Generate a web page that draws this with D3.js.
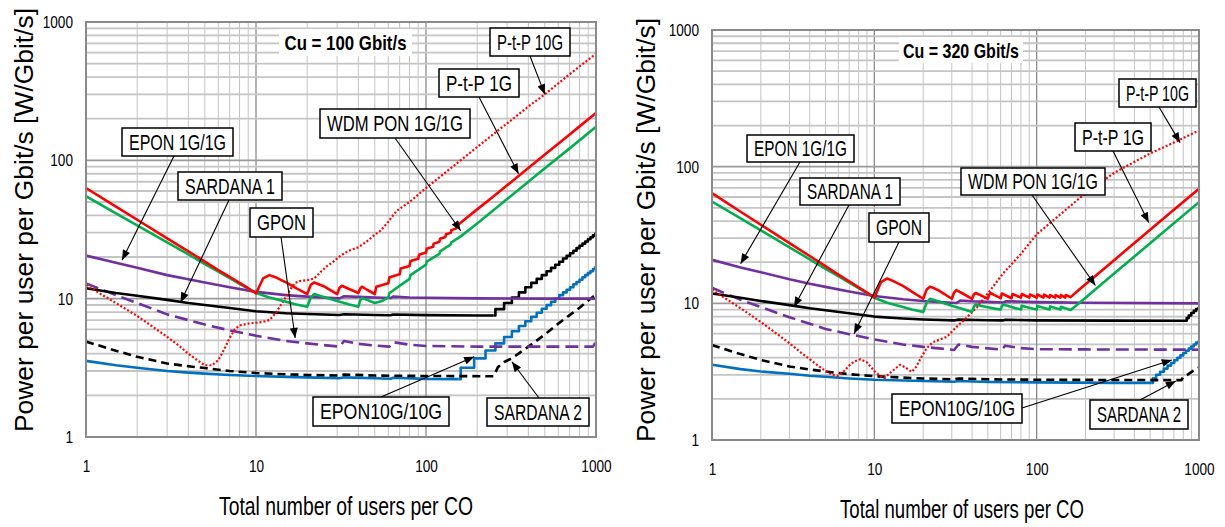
<!DOCTYPE html>
<html>
<head>
<meta charset="utf-8">
<script src="https://cdn.jsdelivr.net/npm/d3@7"></script>
<style>
  body { margin: 0; background: #fff; }
  svg { display: block; }
  .narrow { font-family: "Liberation Sans", Arial, sans-serif; }
  .wide { font-family: "Liberation Sans", Arial, sans-serif; }
</style>
</head>
<body>
<svg id="chart" width="1225" height="527"></svg>
<script>
// ---- Axis ticks ----
const userTicks = [1, 10, 100, 1000];
const powerTicks = [1, 10, 100, 1000];

// ---- Cu = 100 Gbit/s : [users per CO, W/Gbit/s per user] ----
const ptp1g_cu100 = [[1,63],[1.5,46.3],[2,37.2],[3,27.3],[4,22.0],[5,18.5],[6,16.1],[7,14.4],[8,13.0],[9,11.9],[10,10.9],[11,14.0],[12,14.8],[13,14.3],[15,13.1],[17,12.0],[20,10.8],[21,12.6],[22,13.1],[25,12.3],[30,10.8],[31,12.0],[32,12.4],[35,11.8],[40,11.0],[41,11.8],[42,12.2],[45,11.6],[50,10.8],[51,12.2],[60,12.9],[61,14.3],[70,15.0],[71,16.5],[80,17.2],[81,18.7],[90,19.4],[91,20.8],[100,21.6],[101,23.0],[110,23.7],[111,25.0],[120,25.8],[121,27.1],[130,27.9],[131,29.2],[140,30.0],[141,31.3],[150,32.1],[151,33.4],[175,38.8],[200,44.2],[250,55],[300,66],[400,88],[500,110],[600,132],[700,154],[800,176],[900,198],[1000,220]];
const ptp10g_cu100 = [[1,12.5],[1.5,9.3],[2,7.5],[2.5,6.2],[3,5.3],[3.5,4.6],[4,4.0],[4.5,3.6],[5,3.3],[5.5,3.3],[6,3.6],[6.5,4.3],[7,5.2],[7.5,6.0],[8,6.4],[9,6.6],[10,6.7],[11,6.8],[12,7.0],[13,7.8],[14,9.0],[15,10.3],[16,11.8],[17,13.0],[18,13.4],[20,13.6],[22,14.0],[24,15.6],[26,17.1],[28,18.2],[31,20.2],[35,22.2],[40,23.5],[45,26.0],[50,29],[54,31],[60,36],[67,43],[80,50],[100,63],[150,94],[200,125],[300,185],[400,245],[500,300],[700,420],[1000,590]];
const wdm_cu100 = [[1,55],[1.5,41.4],[2,33.9],[3,25.5],[4,20.9],[5,17.8],[6,15.7],[7,14.1],[8,12.8],[9,11.8],[10,11.0],[12,10.2],[15,9.5],[17,9.1],[20,8.75],[21,10.2],[22,10.8],[25,10.3],[30,9.6],[35,9.1],[40,8.75],[41,9.7],[42,10.1],[45,9.8],[50,9.3],[55,9.6],[60,10.2],[61,11.0],[80,13.9],[81,14.8],[100,17.6],[101,18.5],[120,21.1],[121,22.0],[140,24.7],[141,25.5],[160,28.2],[200,35],[300,52.5],[400,70],[500,87.5],[700,122],[1000,175]];
const epon1g_cu100 = [[1,20.5],[1.5,18.2],[2,16.7],[3,14.8],[4,13.8],[5,13.1],[7,12.1],[10,11.2],[15,10.6],[20,10.35],[25,10.2],[31,10.05],[33,10.4],[40,10.3],[50,10.2],[62,10.1],[64,10.35],[80,10.2],[100,10.15],[200,10.05],[500,10.0],[1000,10.0]];
const gpon_cu100 = [[1,12.9],[1.5,10.6],[2,9.3],[3,7.7],[4,7.0],[5,6.5],[7,5.9],[10,5.4],[15,4.95],[20,4.75],[25,4.62],[31,4.5],[33,4.95],[40,4.72],[50,4.58],[61,4.5],[64,4.85],[80,4.65],[100,4.55],[200,4.5],[960,4.5],[1000,4.9]];
const sardana1_cu100 = [[1,11.9],[1.5,11.0],[2,10.5],[3,9.8],[4,9.3],[5,9.0],[7,8.55],[10,8.1],[15,7.85],[20,7.75],[31,7.62],[33,7.72],[50,7.62],[62,7.58],[64,7.68],[100,7.6],[200,7.55],[250,7.55]];
const sardana1_steps_cu100 = [[250,7.55],[256,8.4],[288,9.3],[320,10.2],[352,11.1],[384,12.1],[416,13.0],[448,13.9],[480,14.8],[512,15.8],[544,16.7],[576,17.6],[608,18.5],[640,19.5],[672,20.4],[704,21.3],[736,22.2],[768,23.2],[800,24.1],[832,25.0],[864,25.9],[896,26.9],[928,27.8],[960,28.7],[992,29.6],[1000,29.6]];
const epon10g_cu100 = [[1,3.55],[1.5,3.3],[2,3.17],[3,3.0],[4,2.92],[5,2.87],[7,2.81],[10,2.76],[15,2.72],[20,2.7],[31,2.66],[33,2.7],[50,2.66],[62,2.64],[64,2.68],[100,2.63],[155,2.62]];
const epon10g_steps_cu100 = [[155,2.62],[160,3.17],[192,3.70],[224,4.22],[256,4.75],[288,5.28],[320,5.81],[352,6.34],[384,6.86],[416,7.39],[448,7.92],[480,8.45],[512,8.98],[544,9.5],[576,10.0],[608,10.6],[640,11.1],[672,11.6],[704,12.1],[736,12.7],[768,13.2],[800,13.7],[832,14.3],[864,14.8],[896,15.3],[928,15.8],[960,16.4],[992,16.9],[1000,16.9]];
const sardana2_cu100 = [[1,4.9],[1.5,4.2],[2,3.8],[3,3.4],[4,3.25],[5,3.15],[7,3.0],[10,2.9],[15,2.84],[20,2.81],[31,2.78],[33,2.83],[50,2.78],[100,2.76],[250,2.75],[265,3.2],[290,3.5],[320,3.7],[400,4.5],[500,5.5],[600,6.6],[700,7.6],[800,8.6],[900,9.7],[1000,10.7]];

// ---- Cu = 320 Gbit/s ----
const ptp1g_cu320 = [[1,64],[1.5,46.8],[2,37.6],[3,27.6],[4,22.2],[5,18.7],[6,16.2],[7,14.5],[8,13.1],[9,12.0],[10,11.0],[11,14.3],[12,15.2],[13,14.6],[15,13.4],[17,12.2],[20,10.8],[21,12.6],[22,13.2],[23,13.0],[25,12.4],[30,10.8],[31,12.0],[32,12.5],[35,11.8],[40,10.8],[41,11.6],[42,11.9],[45,11.5],[50,10.8],[51,11.6],[52,11.9],[55,11.5],[60,10.9],[61,11.8],[70,10.9],[71,11.7],[80,11.0],[81,11.7],[90,11.0],[91,11.6],[100,11.0],[101,11.6],[110,11.0],[111,11.6],[120,11.0],[121,11.5],[130,11.0],[131,11.5],[140,11.0],[141,11.5],[150,11.0],[151,11.5],[162,11.1],[180,12.4],[200,13.8],[300,20.7],[400,27.6],[500,34.5],[700,48.3],[1000,69]];
const ptp10g_cu320 = [[1,12.6],[1.5,9.2],[2,7.3],[2.5,6.0],[3,5.1],[3.5,4.4],[4,3.9],[4.5,3.5],[5,3.2],[5.5,3.0],[6,2.95],[6.5,3.2],[7,3.5],[7.5,3.75],[8.2,3.9],[9,3.7],[10,3.2],[11,2.9],[11.6,2.85],[12.5,3.1],[14.4,3.55],[15.5,3.4],[17,3.15],[18,3.4],[19.5,4.05],[21,4.7],[23,5.2],[26,5.5],[28,5.7],[32,6.7],[36,7.6],[43,9.4],[50,11.8],[62,16.5],[80,23],[100,32],[150,48],[200,64],[300,90],[500,125],[700,150],[1000,184]];
const wdm_cu320 = [[1,55.5],[1.5,41.8],[2,34.2],[3,25.7],[4,21.0],[5,17.9],[6,15.8],[7,14.2],[8,12.9],[9,11.9],[10,11.0],[12,10.1],[15,9.4],[17,9.0],[20,8.65],[21,10.1],[22,10.8],[25,10.3],[30,9.6],[35,9.1],[40,8.65],[41,9.4],[42,9.8],[45,9.6],[50,9.35],[55,9.15],[60,9.0],[61,9.5],[62,9.8],[70,9.4],[80,9.0],[81,9.6],[90,9.3],[100,9.0],[101,9.55],[110,9.3],[120,9.0],[121,9.5],[130,9.25],[140,9.0],[141,9.45],[150,9.2],[162,8.95],[180,9.9],[200,11],[300,16.5],[400,22],[500,27.5],[700,38.5],[1000,55]];
const epon1g_cu320 = [[1,20.8],[1.5,18.3],[2,16.9],[3,15.0],[4,13.9],[5,13.2],[7,12.2],[10,11.3],[15,10.7],[20,10.4],[30,10.1],[32,10.05],[34,10.5],[40,10.35],[50,10.25],[62,10.15],[65,10.35],[100,10.2],[200,10.1],[1000,10.0]];
const gpon_cu320 = [[1,13.0],[1.5,10.6],[2,9.4],[3,7.9],[4,7.1],[5,6.5],[7,5.95],[10,5.45],[15,5.0],[20,4.8],[25,4.68],[31,4.56],[33,5.0],[40,4.8],[50,4.68],[61,4.58],[64,4.9],[80,4.7],[100,4.62],[200,4.6],[1000,4.58]];
const sardana1_cu320 = [[1,11.8],[1.5,11.0],[2,10.4],[3,9.7],[4,9.2],[5,8.9],[7,8.45],[10,8.0],[15,7.75],[20,7.62],[31,7.5],[33,7.6],[50,7.52],[62,7.5],[64,7.58],[100,7.5],[300,7.47],[832,7.45]];
const sardana1_steps_cu320 = [[832,7.45],[840,7.8],[864,8.15],[896,8.5],[928,8.8],[960,9.1],[992,9.25],[1000,9.25]];
const epon10g_cu320 = [[1,3.55],[1.5,3.3],[2,3.17],[3,3.05],[4,2.95],[5,2.9],[7,2.82],[10,2.76],[20,2.7],[31,2.67],[33,2.7],[50,2.66],[100,2.64],[300,2.62],[512,2.62]];
const epon10g_steps_cu320 = [[512,2.62],[520,2.83],[544,3.0],[576,3.16],[608,3.33],[640,3.5],[672,3.66],[704,3.83],[736,4.0],[768,4.16],[800,4.33],[832,4.5],[864,4.66],[896,4.83],[928,5.0],[960,5.16],[992,5.25],[1000,5.25]];
const sardana2_cu320 = [[1,4.95],[1.5,4.25],[2,3.85],[3,3.45],[4,3.28],[5,3.17],[7,3.03],[10,2.93],[15,2.86],[20,2.82],[31,2.78],[33,2.82],[50,2.78],[100,2.76],[780,2.74],[800,2.9],[850,3.0],[900,3.15],[1000,3.4]];

// ---- Drawing ----
const svg = d3.select("#chart");

// Squeeze a text element horizontally to a condensed width.
function condense(sel, k) {
  sel.each(function () {
    const w = this.getComputedTextLength();
    d3.select(this).attr("textLength", w * k).attr("lengthAdjust", "spacingAndGlyphs");
  });
}

const styles = {
  ptp1g:   { color: "#ff0000", width: 2.6, dash: null },
  ptp10g:  { color: "#ff0000", width: 2.2, dash: "2,2" },
  wdm:     { color: "#00b050", width: 2.6, dash: null },
  epon1g:  { color: "#7030a0", width: 2.6, dash: null },
  gpon:    { color: "#7030a0", width: 2.6, dash: "13,6" },
  sardana1:{ color: "#000000", width: 2.6, dash: null },
  epon10g: { color: "#0070c0", width: 2.6, dash: null },
  sardana2:{ color: "#000000", width: 2.6, dash: "8,5" }
};

const panels = [
  {
    cu: "Cu = 100 Gbit/s",
    frame: { l: 86, r: 596, t: 22, b: 437 },
    cuBox: { x: 279, y: 29, w: 133, h: 27, len: 122 },
    yTitle: { x: 24, y: 220, len: 424 },
    xTitle: { x: 346, y: 515, len: 254 },
    series: [
      { d: epon10g_cu100, s: "epon10g" }, { d: epon10g_steps_cu100, s: "epon10g", step: true },
      { d: sardana2_cu100, s: "sardana2" },
      { d: gpon_cu100, s: "gpon" },
      { d: sardana1_cu100, s: "sardana1" }, { d: sardana1_steps_cu100, s: "sardana1", step: true },
      { d: epon1g_cu100, s: "epon1g" },
      { d: ptp10g_cu100, s: "ptp10g" },
      { d: wdm_cu100, s: "wdm" },
      { d: ptp1g_cu100, s: "ptp1g" }
    ],
    labels: [
      { text: "P-t-P 10G",     box: [490, 28, 80, 28],  from: [530, 56],  tip: [500, 300] },
      { text: "P-t-P 1G",      box: [439, 69, 80, 28],  from: [479, 97],  tip: [350, 80] },
      { text: "WDM PON 1G/1G", box: [320, 109, 150, 29], from: [395, 138], tip: [160, 31] },
      { text: "EPON 1G/1G",    box: [122, 128, 111, 28], from: [174, 156], tip: [1.63, 19] },
      { text: "SARDANA 1",     box: [178, 172, 104, 28], from: [229, 200], tip: [3.6, 9.4] },
      { text: "GPON",          box: [250, 208, 63, 29],  from: [281, 237], tip: [17, 5.2] },
      { text: "EPON10G/10G",   box: [313, 397, 136, 29], from: [381, 397], tip: [192, 3.8] },
      { text: "SARDANA 2",     box: [487, 398, 102, 28], from: [539, 398], tip: [320, 3.5] }
    ]
  },
  {
    cu: "Cu = 320 Gbit/s",
    frame: { l: 712, r: 1199, t: 30, b: 440 },
    cuBox: { x: 899, y: 37, w: 124, h: 26, len: 116 },
    yTitle: { x: 646, y: 230, len: 424 },
    xTitle: { x: 962, y: 518, len: 244 },
    series: [
      { d: epon10g_cu320, s: "epon10g" }, { d: epon10g_steps_cu320, s: "epon10g", step: true },
      { d: sardana2_cu320, s: "sardana2" },
      { d: gpon_cu320, s: "gpon" },
      { d: sardana1_cu320, s: "sardana1" }, { d: sardana1_steps_cu320, s: "sardana1", step: true },
      { d: epon1g_cu320, s: "epon1g" },
      { d: ptp10g_cu320, s: "ptp10g" },
      { d: wdm_cu320, s: "wdm" },
      { d: ptp1g_cu320, s: "ptp1g" }
    ],
    labels: [
      { text: "P-t-P 10G",     box: [1119, 79, 77, 28],  from: [1159, 107], tip: [765, 150] },
      { text: "P-t-P 1G",      box: [1075, 123, 76, 28], from: [1113, 151], tip: [490, 39] },
      { text: "WDM PON 1G/1G", box: [961, 168, 144, 27], from: [1032, 195], tip: [230, 13.5] },
      { text: "EPON 1G/1G",    box: [747, 135, 107, 27], from: [800, 162],  tip: [1.5, 19.5] },
      { text: "SARDANA 1",     box: [800, 178, 100, 27], from: [849, 205],  tip: [3.2, 9.4] },
      { text: "GPON",          box: [869, 213, 60, 29],  from: [899, 242],  tip: [7.5, 6.0] },
      { text: "EPON10G/10G",   box: [892, 394, 130, 29], from: [1022, 408], tip: [680, 3.85] },
      { text: "SARDANA 2",     box: [1090, 400, 98, 29], from: [1140, 400], tip: [720, 2.7] }
    ]
  }
];

// arrowhead
const defs = svg.append("defs");
defs.append("marker")
  .attr("id", "arrow")
  .attr("markerUnits", "userSpaceOnUse")
  .attr("viewBox", "0 0 10 8")
  .attr("refX", 10).attr("refY", 4)
  .attr("markerWidth", 11).attr("markerHeight", 8)
  .attr("orient", "auto")
  .append("path").attr("d", "M0,0 L10,4 L0,8 Z").attr("fill", "#000");

panels.forEach((p, pi) => {
  const f = p.frame;
  const x = d3.scaleLog().domain([1, 1000]).range([f.l, f.r]);
  const y = d3.scaleLog().domain([1, 1000]).range([f.b, f.t]);
  const g = svg.append("g");

  const clipId = "clip" + pi;
  defs.append("clipPath").attr("id", clipId)
    .append("rect").attr("x", f.l).attr("y", f.t).attr("width", f.r - f.l).attr("height", f.b - f.t);

  // log grid
  const gridVals = [];
  [1, 10, 100].forEach(dec => { for (let k = 1; k <= 9; k++) gridVals.push(dec * k); });
  gridVals.push(1000);
  const grid = g.append("g");
  gridVals.forEach(v => {
    const major = powerTicks.includes(v);
    grid.append("line")
      .attr("x1", f.l).attr("x2", f.r).attr("y1", y(v)).attr("y2", y(v))
      .attr("stroke", major ? "#9a9a9a" : "#c4c4c4").attr("stroke-width", major ? 1.6 : 1.8);
    grid.append("line")
      .attr("y1", f.t).attr("y2", f.b).attr("x1", x(v)).attr("x2", x(v))
      .attr("stroke", major ? "#8c8c8c" : "#c4c4c4").attr("stroke-width", major ? 1.3 : 1);
  });

  // Cu annotation with white backing
  g.append("rect").attr("x", p.cuBox.x).attr("y", p.cuBox.y)
    .attr("width", p.cuBox.w).attr("height", p.cuBox.h).attr("fill", "#fff");
  g.append("text").attr("class", "narrow")
    .attr("x", p.cuBox.x + p.cuBox.w / 2).attr("y", p.cuBox.y + p.cuBox.h / 2)
    .attr("dy", "0.36em").attr("text-anchor", "middle")
    .attr("font-size", 21).attr("font-weight", "bold")
    .attr("textLength", p.cuBox.len).attr("lengthAdjust", "spacingAndGlyphs")
    .text(p.cu);

  // series
  const plot = g.append("g").attr("clip-path", `url(#${clipId})`);
  p.series.forEach(sr => {
    const st = styles[sr.s];
    const line = d3.line()
      .x(d => x(d[0])).y(d => y(d[1]))
      .curve(sr.step ? d3.curveStepAfter : d3.curveLinear);
    plot.append("path").datum(sr.d)
      .attr("d", line)
      .attr("fill", "none")
      .attr("stroke", st.color)
      .attr("stroke-width", st.width)
      .attr("stroke-linejoin", "round")
      .attr("stroke-dasharray", st.dash);
  });

  // frame
  g.append("rect").attr("x", f.l).attr("y", f.t)
    .attr("width", f.r - f.l).attr("height", f.b - f.t)
    .attr("fill", "none").attr("stroke", "#8a8a8a").attr("stroke-width", 2);

  // axes
  const yAxis = d3.axisLeft(y).tickValues(powerTicks).tickFormat(d3.format("d")).tickSize(0).tickPadding(13);
  const xAxis = d3.axisBottom(x).tickValues(userTicks).tickFormat(d3.format("d")).tickSize(0).tickPadding(23);
  const ya = g.append("g").attr("transform", `translate(${f.l},0)`).call(yAxis);
  const xa = g.append("g").attr("transform", `translate(0,${f.b})`).call(xAxis);
  [ya, xa].forEach(a => {
    a.select(".domain").remove();
    a.selectAll("text").attr("class", "narrow").attr("font-size", 17).attr("fill", "#000")
      .call(condense, 0.8);
  });

  // axis titles
  g.append("text").attr("class", "wide")
    .attr("transform", `translate(${p.yTitle.x},${p.yTitle.y}) rotate(-90)`)
    .attr("text-anchor", "middle").attr("dy", "0.36em")
    .attr("font-size", 25)
    .attr("textLength", p.yTitle.len).attr("lengthAdjust", "spacingAndGlyphs")
    .text("Power per user per Gbit/s [W/Gbit/s]");
  g.append("text").attr("class", "narrow")
    .attr("x", p.xTitle.x).attr("y", p.xTitle.y)
    .attr("text-anchor", "middle")
    .attr("font-size", 26)
    .attr("textLength", p.xTitle.len).attr("lengthAdjust", "spacingAndGlyphs")
    .text("Total number of users per CO");

  // callout boxes with arrows
  p.labels.forEach(lb => {
    g.append("line")
      .attr("x1", lb.from[0]).attr("y1", lb.from[1])
      .attr("x2", x(lb.tip[0])).attr("y2", y(lb.tip[1]))
      .attr("stroke", "#000").attr("stroke-width", 1.1)
      .attr("marker-end", "url(#arrow)");
    const [bx, by, bw, bh] = lb.box;
    g.append("rect").attr("x", bx).attr("y", by).attr("width", bw).attr("height", bh)
      .attr("fill", "#fff").attr("stroke", "#000").attr("stroke-width", 1.5);
    g.append("text").attr("class", "narrow")
      .attr("x", bx + bw / 2).attr("y", by + bh / 2).attr("dy", "0.35em")
      .attr("text-anchor", "middle").attr("font-size", 22)
      .attr("textLength", bw - 14).attr("lengthAdjust", "spacingAndGlyphs")
      .text(lb.text);
  });
});
</script>
</body>
</html>
